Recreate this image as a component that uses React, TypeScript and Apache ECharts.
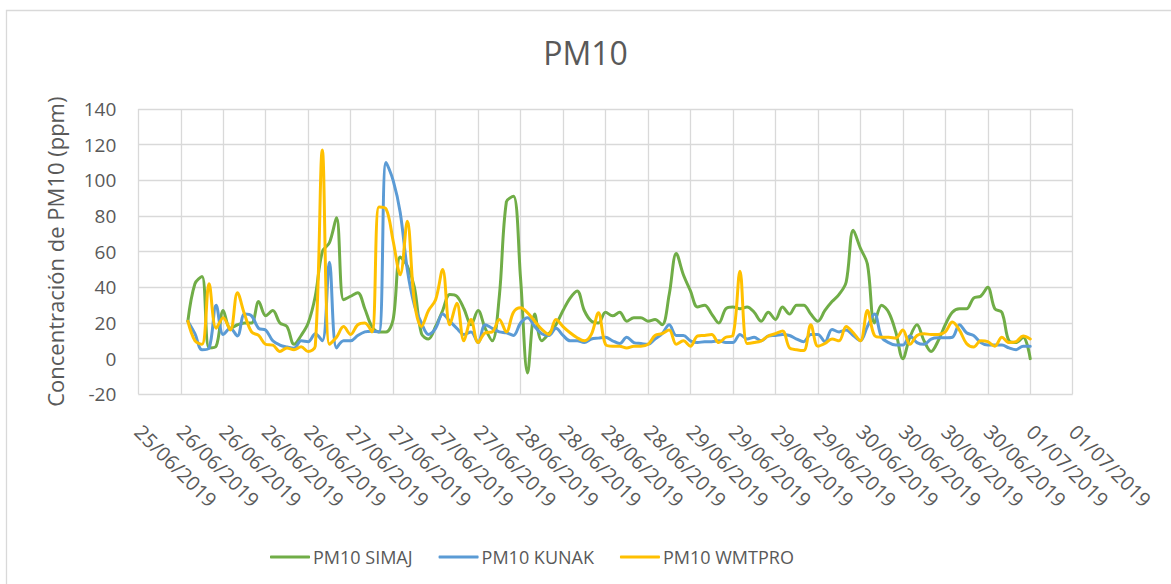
import React, { useEffect, useRef } from "react";
import * as echarts from "echarts";

const chartTitle = "PM10";
const yAxisTitle = "Concentración de PM10 (ppm)";
const seriesNames = ["PM10 SIMAJ", "PM10 KUNAK", "PM10 WMTPRO"];
const seriesColors = ["#70ad47", "#5b9bd5", "#ffc000"];
// x axis: hours counted from 25/06/2019 18:00 (first tick), ticks every 6 h
const axisStartUtc = Date.UTC(2019, 5, 25, 18);
const axisMaxHours = 132;
const tickHours = 6;
const firstReadingHour = 7; // 26/06/2019 01:00, hourly readings after that
const yMin = -20;
const yMax = 140;
const yStep = 20;

const simaj = [
  21, 42, 46, 6, 7, 27, 17, 19, 20, 20,
  32, 24, 27, 20, 18, 8, 13, 20, 35, 60,
  65, 79, 33, 35, 37, 28, 18, 15, 15, 22,
  57, 52, 40, 14, 11, 18, 27, 36, 35, 28,
  19, 27, 17, 10, 35, 88, 91, 45, -8, 25,
  10, 14, 19, 27, 34, 38, 27, 21, 20, 26,
  24, 26, 21, 23, 23, 21, 22, 19, 36, 59,
  47, 38, 29, 30, 25, 20, 28, 29, 28, 29,
  26, 21, 26, 22, 29, 25, 30, 30, 25, 21,
  27, 32, 36, 43, 72, 62, 53, 20, 30, 26,
  15, 0, 12, 19, 10, 4, 10, 19, 26, 28,
  28, 34, 35, 40, 28, 26, 10, 9, 12, 0,
];

const kunak = [
  21, 14, 5, 6, 30, 13.5, 17, 12.7, 25, 24,
  17, 16, 10, 7.6, 6.5, 5.8, 10, 9.5, 14, 10,
  54, 6, 10, 10, 13, 15, 15.4, 15, 110, 100,
  82, 50, 30, 20, 13.6, 17, 25, 21, 17, 13.6,
  15, 9, 19, 17, 15, 14.5, 13, 20, 23, 18,
  14, 13, 17, 13, 10, 10, 9, 11, 11.5, 12,
  10, 8.5, 12, 9, 8.5, 8, 11, 14, 19, 13,
  13, 10, 9, 9.5, 9.5, 10, 9, 9, 13.6, 11,
  12, 10, 12.7, 13, 13.6, 13, 11, 9.5, 13.6, 13.6,
  9.5, 16.4, 15, 16, 13, 10, 18, 25, 12, 9,
  7.6, 7.6, 12.7, 9, 8, 11, 11.7, 11.7, 12, 19,
  14.5, 13, 9, 7.6, 7.6, 7.6, 6, 5, 7, 7,
];

const wmtpro = [
  21, 10, 8, 42, 17, 23, 16, 37, 25, 15,
  13, 8, 7.6, 4, 6, 5, 6.7, 4, 7, 117,
  8, 12, 18, 13.6, 19, 20, 15, 85, 84, 66,
  47, 77, 32, 18, 27, 33, 50, 19, 31, 10,
  22, 9, 14.5, 15, 22, 15, 26, 28.5, 25.7, 21,
  16.4, 13.6, 22, 18, 14.5, 11.7, 10, 13.6, 25.7, 8,
  7, 7, 6, 7, 7, 8, 13, 14, 16, 8,
  10, 7, 12.7, 13, 13.5, 9, 12, 13, 49, 8.5,
  9, 10, 12.7, 14, 15.5, 6, 5, 4.5, 19, 7,
  8.5, 11, 10, 18, 14.5, 10, 27, 13, 12, 12,
  11.5, 16, 8, 13, 14, 13.5, 13.6, 15, 20.5, 16,
  8.5, 6.5, 10, 9.5, 7, 12, 9, 9.5, 12.7, 11,
];

const seriesValues = [simaj, kunak, wmtpro];

const pad = (n: number) => (n < 10 ? "0" + n : "" + n);
const formatTick = (h: number) => {
  const d = new Date(axisStartUtc + h * 3600 * 1000);
  return pad(d.getUTCDate()) + "/" + pad(d.getUTCMonth() + 1) + "/" + d.getUTCFullYear();
};

const FONT = "'Open Sans', 'Noto Sans', sans-serif";
const TEXT = "#595959";
const GRID = "#d9d9d9";

export default function App() {
  const ref = useRef<HTMLDivElement>(null);
  useEffect(() => {
    if (!ref.current) return;
    const chart = echarts.init(ref.current, undefined, { renderer: "svg" });
    chart.setOption({
      animation: false,
      backgroundColor: "#ffffff",
      textStyle: { fontFamily: FONT },
      title: {
        text: chartTitle,
        left: "center",
        top: 31,
        textStyle: { fontFamily: FONT, fontSize: 32, fontWeight: "normal", color: TEXT },
      },
      graphic: [
        {
          type: "rect",
          shape: { x: 6.5, y: 10.5, width: 1200, height: 600 },
          style: { fill: "none", stroke: GRID, lineWidth: 1.3 },
          silent: true,
        },
      ],
      legend: {
        left: 265,
        top: 543,
        icon: "roundRect",
        itemWidth: 40,
        itemHeight: 3,
        itemGap: 26,
        textStyle: { fontFamily: FONT, fontSize: 18, color: TEXT, padding: [0, 0, 0, -2] },
        data: seriesNames,
      },
      grid: { left: 138.3, right: 98.3, top: 109, bottom: 189.7, containLabel: false },
      xAxis: {
        type: "value",
        min: 0,
        max: axisMaxHours,
        interval: tickHours,
        axisLine: { show: false },
        axisTick: { show: false },
        splitLine: { show: true, lineStyle: { color: GRID, width: 1.3 } },
        axisLabel: {
          rotate: -45,
          margin: 34,
          fontFamily: FONT,
          fontSize: 20,
          color: TEXT,
          formatter: (v: number) => formatTick(v),
        },
      },
      yAxis: {
        type: "value",
        min: yMin,
        max: yMax,
        interval: yStep,
        name: yAxisTitle,
        nameLocation: "middle",
        nameGap: 72,
        nameTextStyle: { fontFamily: FONT, fontSize: 22, color: TEXT },
        axisLine: { show: false },
        axisTick: { show: false },
        splitLine: { show: true, lineStyle: { color: GRID, width: 1.3 } },
        axisLabel: { margin: 22, fontFamily: FONT, fontSize: 19, color: TEXT },
      },
      series: seriesValues.map((vals, si) => ({
        name: seriesNames[si],
        type: "line",
        smooth: 0.35,
        symbol: "none",
        color: seriesColors[si],
        lineStyle: { width: 3, color: seriesColors[si], cap: "round", join: "round" },
        data: vals.map((v, i) => [firstReadingHour + i, v]),
      })),
    });
    return () => chart.dispose();
  }, []);
  return (
    <div
      ref={ref}
      style={{ position: "absolute", left: 0, top: 0, width: 1171, height: 584, background: "#fff" }}
    />
  );
}
